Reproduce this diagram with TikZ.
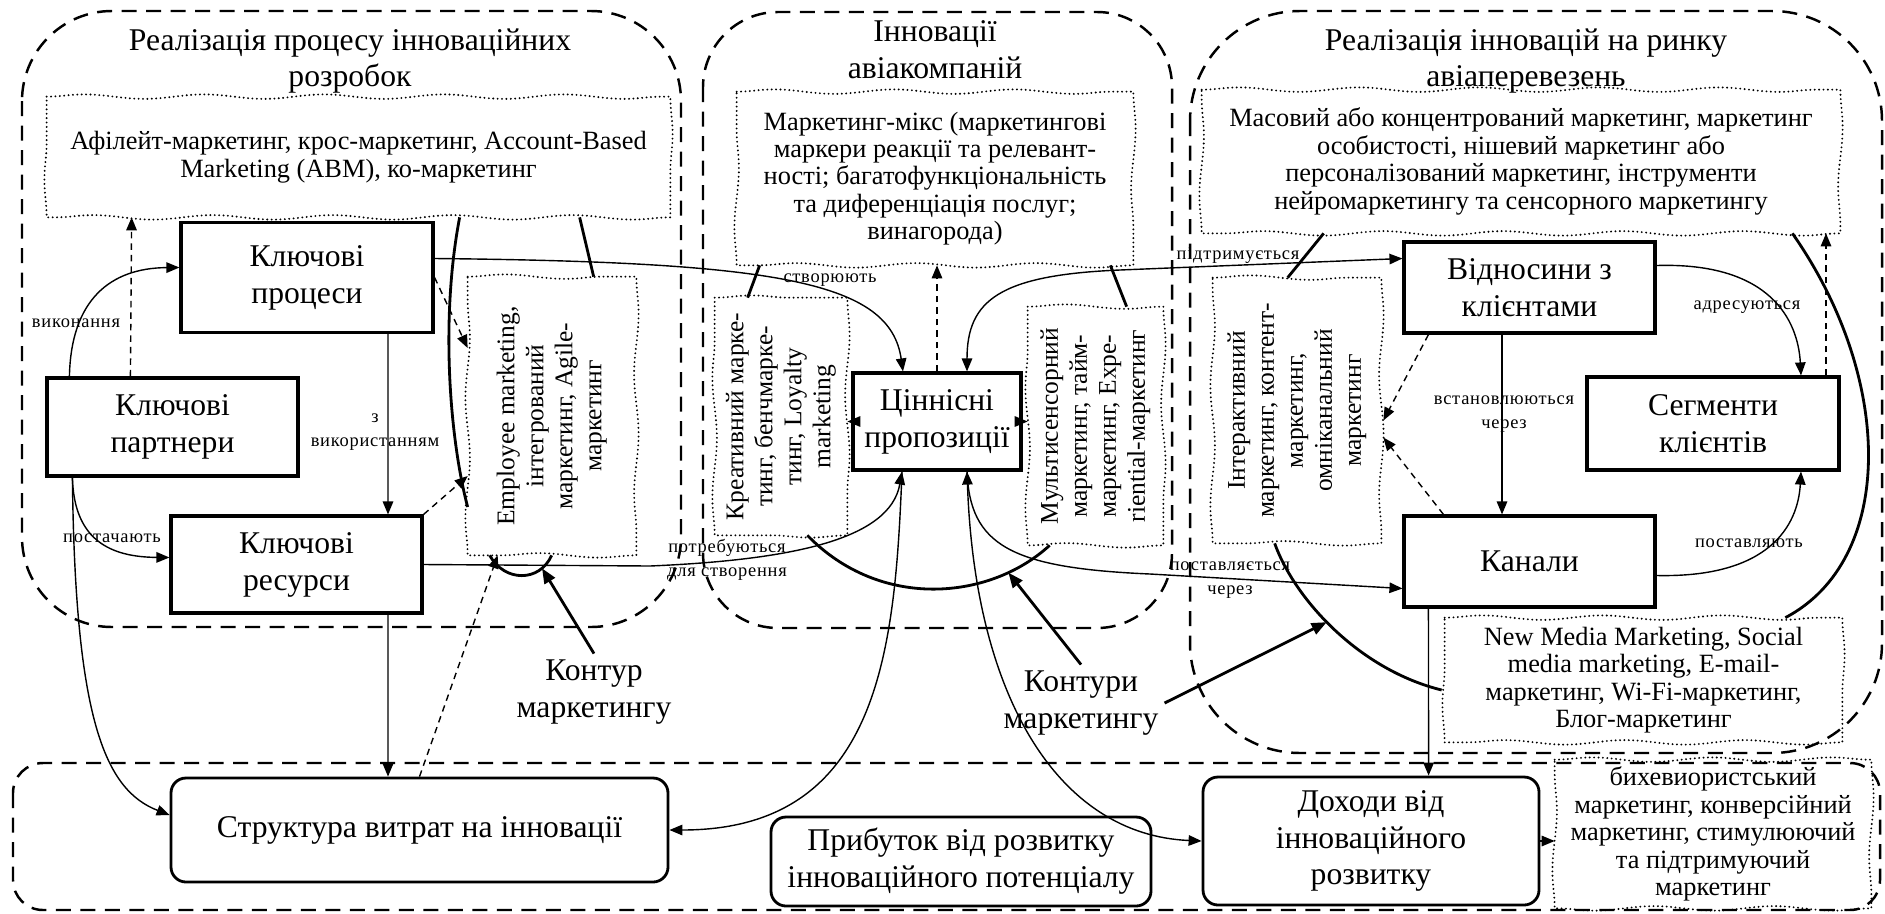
\documentclass[tikz,border=0pt]{standalone}
\usepackage{fontspec}
\usepackage{graphicx}
\setmainfont{Liberation Serif}
\newfontfamily\lblfont[LetterSpace=4]{Liberation Serif}
\usepackage{tikz}
\usetikzlibrary{arrows.meta, calc, decorations.pathmorphing}
\newcommand{\mainsize}{\fontsize{18}{21}\selectfont}
\newcommand{\dotsize}{\fontsize{15}{15.6}\selectfont}
\newcommand{\vdotsize}{\fontsize{14.5}{16.5}\selectfont}
\newcommand{\lblsize}{\lblfont\fontsize{10.5}{14}\selectfont}
\newcommand{\vtext}[1]{\rotatebox{90}{\begin{tabular}{@{}c@{}}#1\end{tabular}}}
\tikzset{
    mainbox/.style={rectangle, draw, line width=1.8pt, align=center, font=\mainsize, inner sep=2pt},
    roundbox/.style={mainbox, line width=1.6pt, rounded corners=3mm},
    dotbox/.style={rectangle, align=center, font=\dotsize, inner sep=1pt},
    vdotbox/.style={dotbox, font=\vdotsize},
    wavy/.style={line width=1.2pt, line cap=round, dash pattern=on 0pt off 2.5pt, decoration={snake, amplitude=0.45mm, segment length=24mm}},
    region/.style={draw, line width=1.4pt, dash pattern=on 3mm off 1.9mm, rounded corners=#1},
    heading/.style={align=center, font=\mainsize},
    lbl/.style={align=center, font=\lblsize, inner sep=1pt},
    arr/.style={line width=0.8pt, -{Triangle[length=2.6mm, width=2.1mm]}},
    dblarr/.style={line width=0.8pt, {Triangle[length=2.6mm, width=2.1mm]}-{Triangle[length=2.6mm, width=2.1mm]}},
    dasharr/.style={arr, dash pattern=on 1.3mm off 1mm},
    contour/.style={line width=1.6pt},
    contarr/.style={contour, -{Triangle[length=3mm, width=2.4mm]}}
}
\begin{document}
\begin{tikzpicture}[x=0.2mm, y=-0.2mm]
        \useasboundingbox (0,0) rectangle (1885,913);

        % Dashed areas
        \draw[region=18mm] (22,11) rectangle (681,627);
        \draw[region=15mm] (703,12) rectangle (1172,628);
        \draw[region=22mm] (1190,11) rectangle (1882,753);
        \draw[region=6mm] (13,763) rectangle (1880,910);

        % Area headings
        \node[heading] (tL) at (350,61) {Реалізація процесу інноваційних\\розробок};
        \node[heading] (tM) at (935,50) {Інновації\\авіакомпаній};
        \node[heading] (tR) at (1526,61) {Реалізація інновацій на ринку\\авіаперевезень};

        % Business model blocks
        \node[mainbox, minimum width=50.4mm, minimum height=22mm] (proc) at (307,277.5) {Ключові\\процеси};
        \node[mainbox, minimum width=50.2mm, minimum height=19.6mm] (part) at (172.5,427) {Ключові\\партнери};
        \node[mainbox, minimum width=50.2mm, minimum height=19.4mm] (res) at (296.5,564.5) {Ключові\\ресурси};
        \node[mainbox, minimum width=33.6mm, minimum height=19.4mm] (val) at (937,421.5) {Ціннісні\\пропозиції};
        \node[mainbox, minimum width=50.2mm, minimum height=18.2mm] (rel) at (1529.5,287.5) {Відносини з\\клієнтами};
        \node[mainbox, minimum width=50.4mm, minimum height=18.6mm] (seg) at (1713,423.5) {Сегменти\\клієнтів};
        \node[mainbox, minimum width=50.2mm, minimum height=18.2mm] (kan) at (1529.5,561.5) {Канали};

        % Bottom blocks
        \node[roundbox, minimum width=99.4mm, minimum height=20.8mm] (str) at (419.5,830) {Структура витрат на інновації};
        \node[roundbox, minimum width=76mm, minimum height=17.8mm] (pri) at (961,861.5) {Прибуток від розвитку\\інноваційного потенціалу};
        \node[roundbox, minimum width=67.2mm, minimum height=25.6mm] (doh) at (1371,841) {Доходи від\\інноваційного\\розвитку};

        % Marketing tools
        \node[dotbox, minimum width=124.6mm, minimum height=24mm] (afil) at (358.5,157) {Афілейт-маркетинг, крос-маркетинг, Account-Based\\Marketing (ABM), ко-маркетинг};
        \node[dotbox, minimum width=79.2mm, minimum height=34.6mm] (mix) at (935,178.5) {Маркетинг-мікс (маркетингові\\маркери реакції та релевант-\\ності; багатофункціональність\\та диференціація послуг;\\винагорода)};
        \node[dotbox, minimum width=127.6mm, minimum height=28.6mm] (mas) at (1521,161.5) {Масовий або концентрований маркетинг, маркетинг\\особистості, нішевий маркетинг або\\персоналізований маркетинг, інструменти\\нейромаркетингу та сенсорного маркетингу};
        \node[dotbox, minimum width=79.4mm, minimum height=24.8mm] (nmm) at (1643.5,680) {New Media Marketing, Social\\media marketing, E-mail-\\маркетинг, Wi-Fi-маркетинг,\\Блог-маркетинг};
        \node[dotbox, minimum width=63.2mm, minimum height=29.6mm] (bih) at (1713,834) {бихевиористський\\маркетинг, конверсійний\\маркетинг, стимулюючий\\та підтримуючий\\маркетинг};
        \node[vdotbox, minimum width=33.6mm, minimum height=55.6mm] (emp) at (552,416) {\vtext{Employee marketing,\\інтегрований\\маркетинг, Agile-\\маркетинг}};
        \node[vdotbox, minimum width=26.4mm, minimum height=47.4mm] (kre) at (781,416.5) {\vtext{Креативний марке-\\тинг, бенчмарке-\\тинг, Loyalty\\marketing}};
        \node[vdotbox, minimum width=27mm, minimum height=47.6mm] (mul) at (1095.5,426) {\vtext{Мультисенсорний\\маркетинг, тайм-\\маркетинг, Expe-\\riential-маркетинг}};
        \node[vdotbox, minimum width=33.6mm, minimum height=53mm] (int) at (1297,410.5) {\vtext{Інтерактивний\\маркетинг, контент-\\маркетинг,\\омніканальний\\маркетинг}};
        % wavy dotted outlines, each side on its own
        \foreach \n in {afil, mix, mas, nmm, bih, emp, kre, mul, int}
            \draw[wavy] (\n.north west) decorate {-- (\n.north east)} decorate {-- (\n.south east)}
                decorate {-- (\n.south west)} decorate {-- (\n.north west)};

        % Contour labels
        \node[heading] (kl1) at (594,692) {Контур\\маркетингу};
        \node[heading] (kl2) at (1081,703) {Контури\\маркетингу};

        % Connector labels
        \node[lbl] (lvyk) at (76,323) {виконання};
        \node[lbl] (lvyc) at (375,432) {з\\використанням};
        \node[lbl] (lpos) at (112,538) {постачають};
        \node[lbl] (lstv) at (830,280) {створюють};
        \node[lbl] (lpot) at (727,560) {потребуються\\для створення};
        \node[lbl] (lpid) at (1238,255) {підтримується};
        \node[lbl] (lpst) at (1230,580) {поставляється\\через};
        \node[lbl] (ladr) at (1747,307) {адресуються};
        \node[lbl] (lvst) at (1504,414) {встановлюються\\через};
        \node[lbl] (lpvl) at (1749,543) {поставляють};

        % Left area links
        \draw[arr] ($(part.north west)+(24,0)$) .. controls (71,300) and (110,268) .. ($(proc.west)+(0,-10)$);
        \draw[dasharr] ($(part.north west)+(85,0)$) -- ($(afil.south west)+(85,0)$);
        \draw[arr] ($(part.south west)+(27,0)$) .. controls (74,540) and (110,557) .. ($(res.west)+(0,-7)$);
        \draw[arr] ($(part.south west)+(27,0)$) .. controls (75,720) and (105,790) .. ($(str.west)+(0,-15)$);
        \draw[arr] ($(proc.south)+(81,0)$) -- ($(res.north)+(91.5,0)$);
        \draw[arr] ($(res.south)+(91.5,0)$) -- ($(str.north)+(-31.5,0)$);
        \draw[dasharr] (proc.east) -- ($(emp.west)+(0,-68)$);
        \draw[dasharr] (res.north east) -- ($(emp.west)+(0,60)$);
        \draw[dasharr] (str.north) -- ($(emp.south west)+(30,0)$);
        \draw[contour] ($(afil.south west)+(413,0)$) .. controls (440,320) and (450,440) .. ($(emp.west)+(0,91)$);
        \draw[contour] ($(afil.south west)+(533,0)$) -- ($(emp.north west)+(126,0)$);
        \draw[contour] ($(emp.south west)+(22,0)$) .. controls +(15,27) and +(-12,27) .. ($(emp.south west)+(84,0)$) coordinate[pos=0.8] (u1);
        \draw[contarr] (kl1.north) -- (u1);

        % Value proposition links
        \draw[arr] ($(proc.east)+(0,-19)$) .. controls (780,262) and (890,282) .. ($(val.north)+(-34,0)$);
        \draw[dblarr] ($(rel.west)+(0,-29)$) -- (1120,270) .. controls (1000,275) and (967,300) .. ($(val.north)+(30,0)$);
        \draw[arr] (res.east) -- (650,566) .. controls (790,560) and (890,540) .. ($(val.south)+(-35,0)$);
        \draw[arr] ($(val.south)+(30,0)$) .. controls (970,545) and (1010,568) .. (1150,574) -- ($(kan.west)+(0,27)$);
        \draw[arr] ($(val.south)+(-35,0)$) .. controls (895,650) and (880,830) .. (str.east);
        \draw[dblarr] ($(val.south)+(30,0)$) .. controls (975,700) and (1060,835) .. (doh.west);
        \draw[dasharr] (val.north) -- (val.north |- mix.south);
        \draw[dasharr] (val.west) -- (val.west -| kre.east);
        \draw[dasharr] (val.east) -- (val.east -| mul.west);
        \draw[contour] ($(mix.south west)+(23,0)$) -- ($(kre.north west)+(33,0)$);
        \draw[contour] ($(mix.south east)+(-23,0)$) -- ($(mul.north west)+(99,0)$);
        \draw[contour] ($(kre.south east)+(-40,0)$) .. controls +(73,75) and +(-60,55) .. ($(mul.south west)+(22,0)$) coordinate[pos=0.8] (u2);
        \draw[contarr] (kl2.north) -- (u2);

        % Right area links
        \draw[arr] ($(rel.east)+(0,-22)$) .. controls (1770,262) and (1798,320) .. ($(seg.north)+(88,0)$);
        \draw[arr] ($(kan.east)+(0,14)$) .. controls (1770,578) and (1798,525) .. ($(seg.south)+(88,0)$);
        \draw[arr] ($(rel.south)+(-27.5,0)$) -- ($(kan.north)+(-27.5,0)$);
        \draw[dasharr] ($(rel.south west)+(26,0)$) -- ($(int.east)+(2,10)$);
        \draw[dasharr] ($(kan.north west)+(41,0)$) -- ($(int.east)+(2,27)$);
        \draw[dasharr] ($(seg.north)+(113,0)$) -- ($(mas.south)+(305,0)$);
        \draw[contour] ($(mas.south west)+(122,0)$) -- ($(int.north west)+(75,0)$);
        \draw[contour] ($(int.south west)+(62,0)$) .. controls (1295,600) and (1360,670) .. ($(nmm.west)+(-3,10)$) coordinate[pos=0.45] (u3);
        \draw[contour] ($(mas.south east)+(-48,0)$) .. controls (1895,380) and (1895,560) .. ($(nmm.north east)+(-57,0)$);
        \draw[contarr] (kl2.east) -- (u3);

        % Income links
        \draw[arr] ($(kan.south west)+(26,0)$) -- ($(doh.north west)+(227,0)$);
        \draw[arr] (doh.east) -- (doh.east -| bih.west);
    \end{tikzpicture}
\end{document}
